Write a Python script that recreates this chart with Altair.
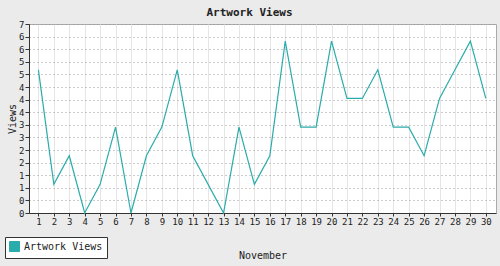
import altair as alt
import numpy as np
import pandas as pd

days = list(range(1, 31))
views = [5, 1, 2, 0, 1, 3, 0, 2, 3, 5, 2, 1, 0, 3, 1, 2, 6, 3, 3, 6, 4, 4, 5, 3, 3, 2, 4, 5, 6, 4]
series = ["Artwork Views"] * 30

y_max = 6.6
y_ticks = [float(v) for v in np.linspace(0, y_max, 16)]

df = pd.DataFrame({"day": days, "views": views, "series": series})

FONT = "DejaVu Sans Mono"
TEAL = "#2aacac"

chart = alt.Chart(df).mark_line(strokeWidth=1.2, interpolate="linear").encode(
    x=alt.X("day:Q",
            scale=alt.Scale(domain=[0.39, 30.66], nice=False, zero=False),
            axis=alt.Axis(values=days, title="November", grid=True,
                          gridColor="#e6e6e6", gridWidth=1,
                          domainColor="#333", tickColor="#333", tickSize=3,
                          labelPadding=1, labelFontSize=9, labelFont=FONT,
                          labelColor="#222", titleFont=FONT, titleFontSize=10,
                          titleFontWeight="normal", titleColor="#222",
                          titleY=42, titleBaseline="middle")),
    y=alt.Y("views:Q",
            scale=alt.Scale(domain=[0, y_max], nice=False),
            axis=alt.Axis(values=y_ticks, labelExpr="round(datum.value)",
                          title="Views", grid=True, gridColor="#999",
                          gridDash=[1, 3], gridWidth=1,
                          domainColor="#333", tickColor="#333", tickSize=4,
                          labelPadding=1, labelFontSize=9, labelFont=FONT,
                          labelColor="#222", titleFont=FONT, titleFontSize=10,
                          titleFontWeight="normal", titleColor="#222",
                          titleX=-17, titleY=94.5, titleBaseline="middle")),
    color=alt.Color("series:N", scale=alt.Scale(range=[TEAL]),
                    legend=alt.Legend(title=None, orient="none", legendX=-24,
                                      legendY=213, symbolType="square",
                                      symbolSize=100, symbolFillColor=TEAL,
                                      symbolStrokeColor="#333",
                                      symbolStrokeWidth=1,
                                      labelFont=FONT, labelFontSize=10,
                                      labelColor="#222", labelOffset=4,
                                      strokeColor="#333", fillColor="white",
                                      padding=4, cornerRadius=0)),
).properties(
    width=467, height=189,
    title=alt.TitleParams("Artwork Views", font=FONT, fontSize=11,
                          fontWeight="bold", color="#222", dx=-13,
                          baseline="middle", offset=-4),
    autosize=alt.AutoSizeParams(type="none"),
    padding={"left": 29, "top": 24, "right": 4, "bottom": 53},
    background="#ebebeb",
).configure_view(
    fill="white", stroke="#aaa", strokeWidth=1
)

chart.save("out.html", embed_options={"renderer": "svg", "actions": False})
